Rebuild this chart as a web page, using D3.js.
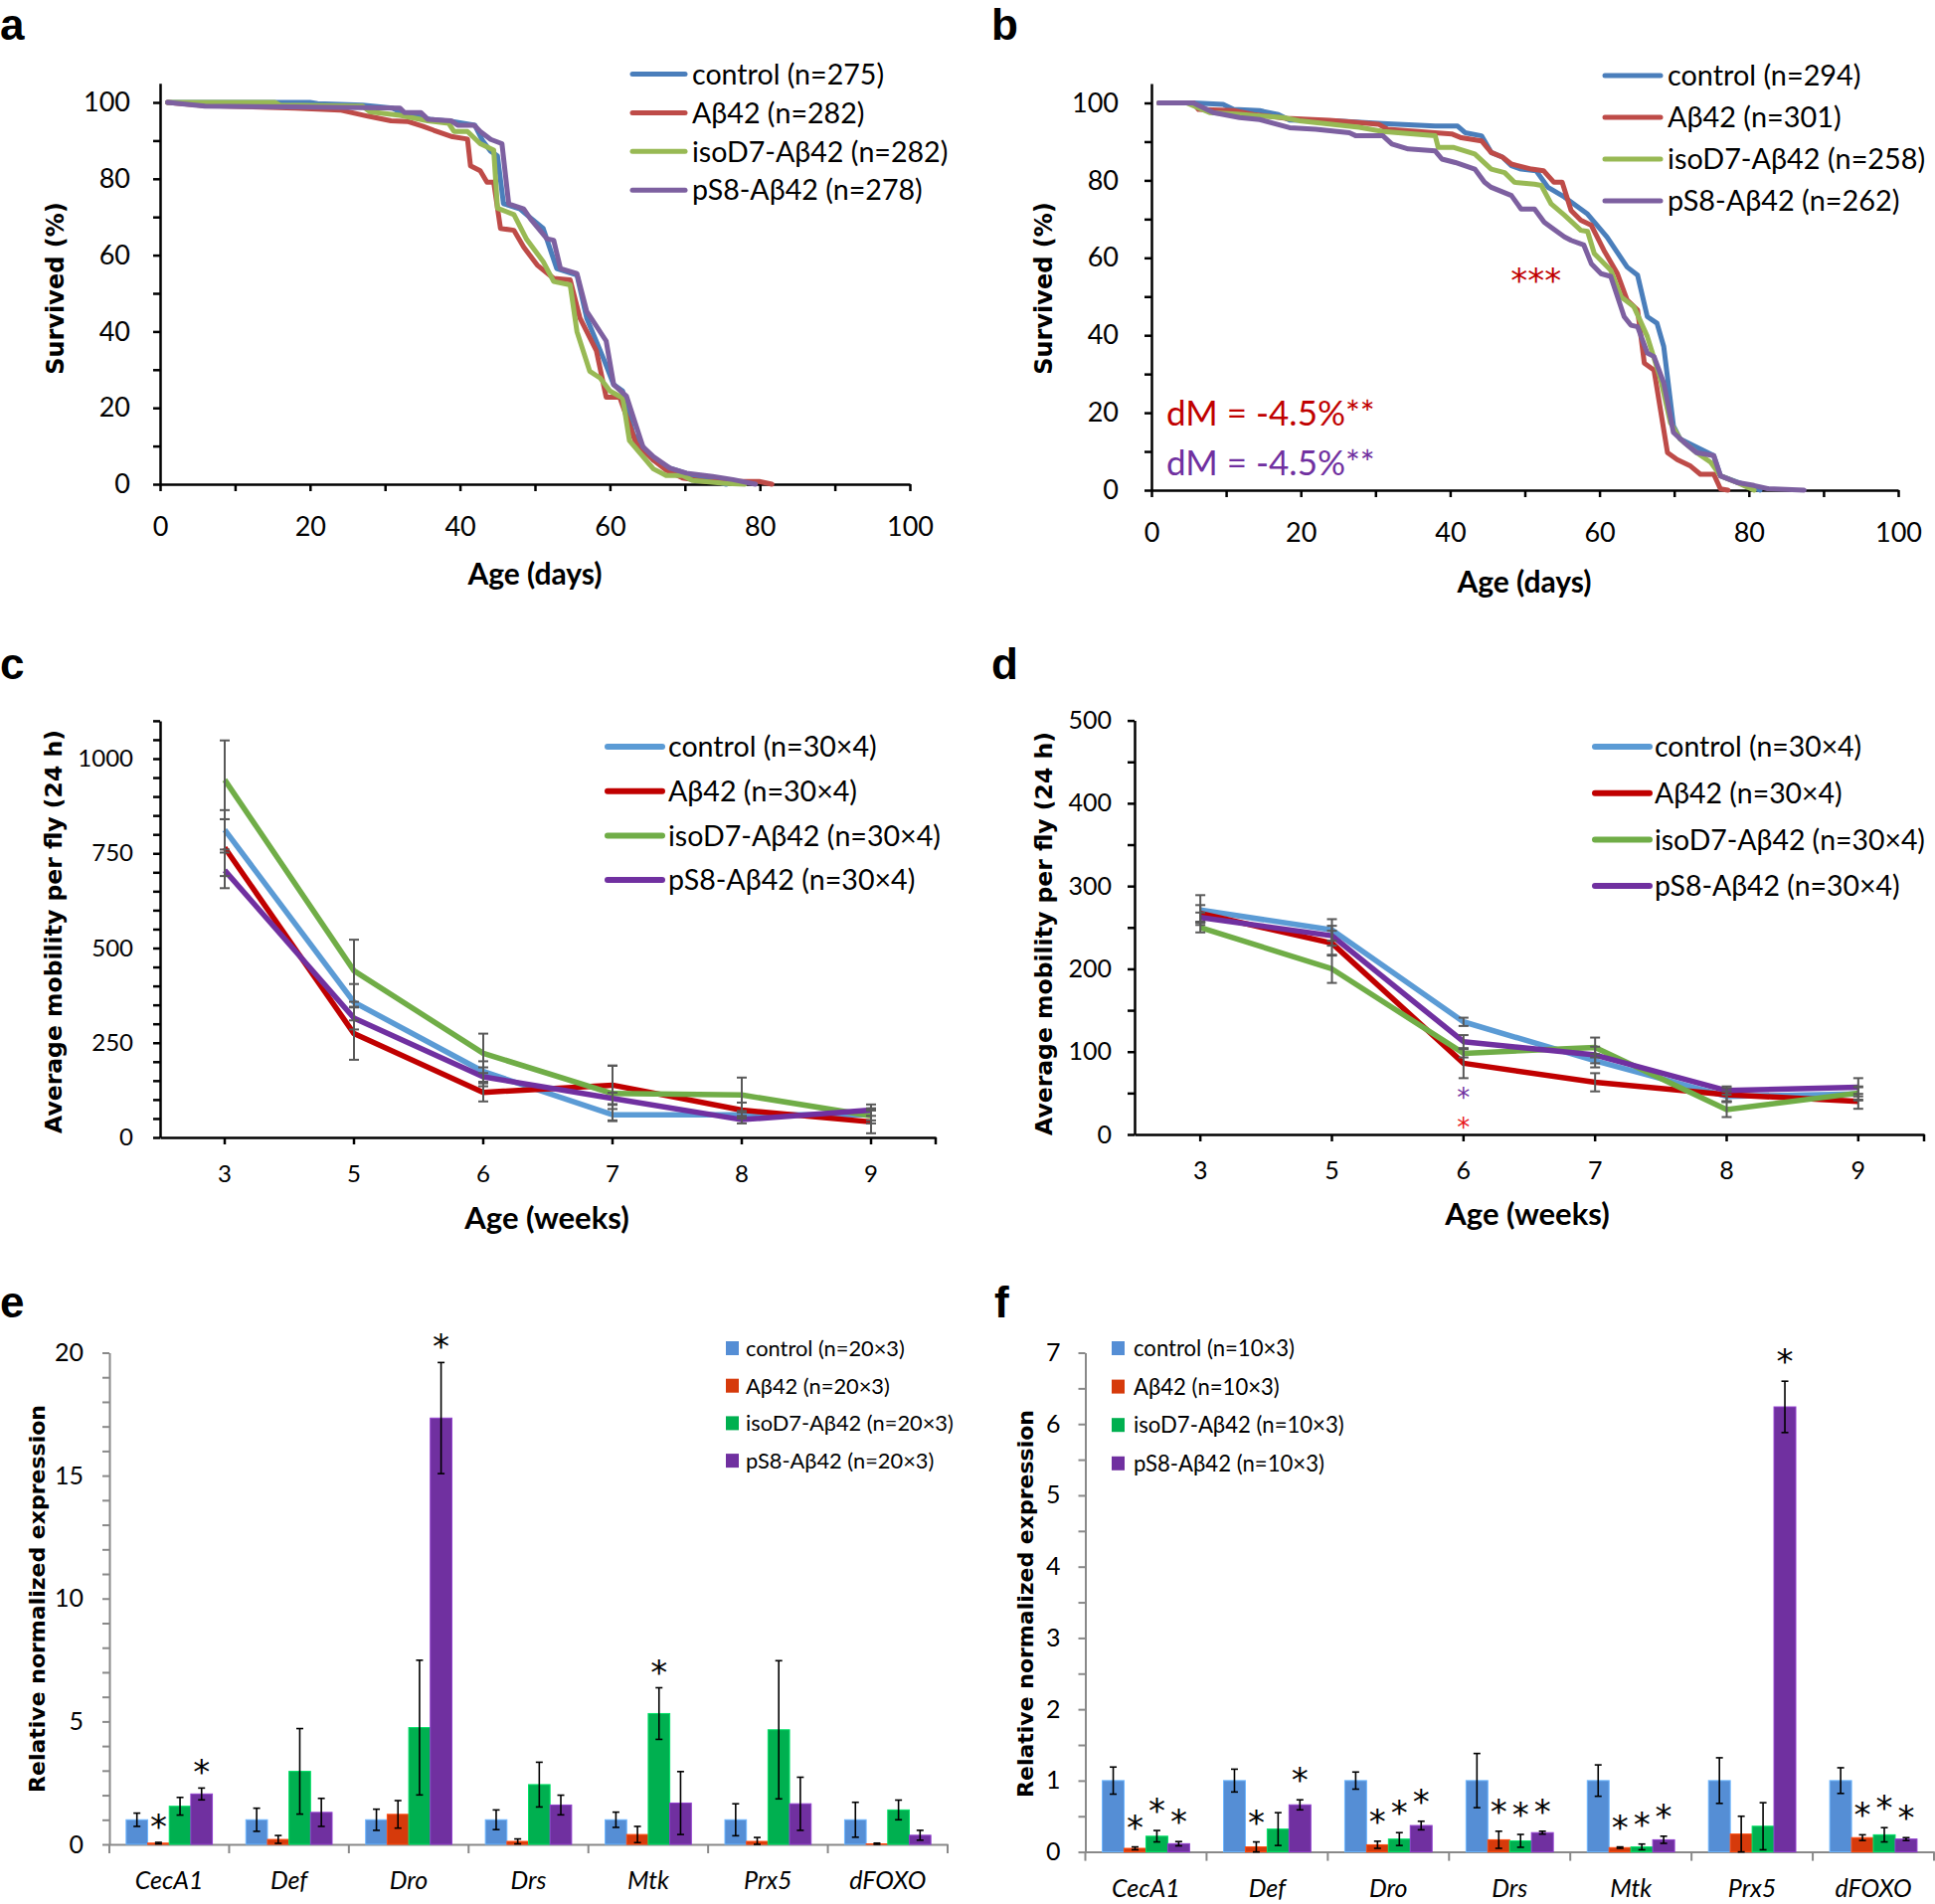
<!DOCTYPE html>
<html><head><meta charset="utf-8">
<script src="https://cdn.jsdelivr.net/npm/d3@7"></script>
<style>body{margin:0;background:#fff}svg{display:block}</style>
</head><body>
<svg id="fig" width="1946" height="1915"></svg>
<script>
// ================= DATA =================
// Panel a: survival curves [day, % survived]
const aLabels = ["control (n=275)","Aβ42 (n=282)","isoD7-Aβ42 (n=282)","pS8-Aβ42 (n=278)"];
const aControl = [[1,100],[20,100],[21,99.7],[27,99.3],[31,98.5],[32,97.5],[35,96],[36,95.6],[39,95],[40,94.7],[42,94],[43,90],[44.1,87.2],[45,86],[45.8,73.5],[48,72.1],[49,70.4],[51.1,67],[52.9,56.5],[55.6,54.8],[56.9,43.5],[59.1,33.1],[60.5,26.1],[61.7,24.4],[63.1,13.1],[65.8,6.3],[68,4.2],[71,2.3],[73.7,1.0],[75.5,0]];
const aAb42 = [[1,100],[5.6,99.2],[18,98.5],[24,98],[27.7,96.4],[30.8,95.2],[33,95],[35,93.8],[36.5,92.7],[39,91],[41,90.4],[41.4,83.4],[42.7,82.1],[43.6,79.1],[44.5,79.1],[45.4,67],[47.2,66.5],[48.5,62.1],[50.3,57.4],[52.5,53.9],[54.7,53.5],[56,43.5],[58.2,34.9],[59.5,22.8],[61.3,22.8],[63.5,10.6],[65.8,6.3],[67.5,3.7],[69.7,1.6],[72.8,0.7],[79.9,0.7],[81.6,0]];
const aIsoD7 = [[1,100],[15.3,100],[16,99.3],[27,99],[28,97.5],[32,96.6],[35.7,95.2],[38.5,94.5],[39.2,92.4],[41,92.4],[42.7,89.2],[44.5,87.5],[45,72.3],[47.2,70.6],[48.9,64.1],[51.1,58.3],[52.5,53.1],[54.7,52.2],[55.6,40],[57.3,29.6],[58.7,27.8],[60,24.4],[61.7,22.6],[62.6,11.4],[65.8,4],[67.5,2.3],[69.7,2.3],[71,1],[75.5,0.2],[78,0]];
const aPS8 = [[1,100],[6,99],[18,98.8],[32,98.5],[32.6,97.3],[34.8,97.3],[35.7,95.6],[38.8,95.2],[39.7,94],[41.9,94],[42.7,92.4],[44.1,90.3],[45.6,89.2],[46.5,73.4],[48.5,72.1],[49.4,69.5],[51.6,64.3],[52.5,63.9],[53.4,56.5],[55.6,55.2],[56.9,45.3],[59.5,37.5],[60.5,26.1],[62.2,23.1],[64.4,9.8],[65.8,7.2],[68,4.2],[70.2,2.9],[73.7,2],[76.4,1.2],[79.4,0]];

// Panel b
const bLabels = ["control (n=294)","Aβ42 (n=301)","isoD7-Aβ42 (n=258)","pS8-Aβ42 (n=262)"];
const bControl = [[1,100],[5.6,100],[9.6,99.6],[11,98.3],[14.5,98],[17,97],[18.5,95.6],[25,95.3],[30.9,94.7],[38,94],[41,94],[42,92.3],[44.2,91.5],[45.5,87.2],[47,86],[48.2,83.8],[49.5,82.9],[51.5,82.5],[53.1,78.2],[55.3,75.7],[58.4,71.3],[61,65.4],[63.7,57.6],[65.1,55.5],[66.4,44.8],[67.7,43.1],[68.6,37.1],[69.9,16.6],[70.8,13.2],[72.6,11.5],[75.3,8.9],[76.2,3.7],[79.7,1.2],[81.5,0]];
const bAb42 = [[1,100],[5.6,100],[6.3,98.3],[11,98],[13.7,97],[16,96.5],[18,96],[23.8,95.5],[27.3,95],[30.4,94.5],[31.6,93.2],[40.2,92],[41.5,91],[44.2,90.2],[45.5,87.2],[47,86],[48.2,84.2],[50.9,82.9],[52.5,82.5],[53.9,79.5],[55,79.5],[56.2,72.2],[57.5,69.7],[58.9,68.4],[60.6,61.9],[62.4,55.9],[63.7,49.1],[65.1,46.5],[66,32.8],[67.3,31],[69.1,9.7],[70.4,7.9],[72.2,6.2],[73.5,4.1],[75.3,4.1],[76.2,0.3],[77.2,0]];
const bIsoD7 = [[1,100],[4.7,100],[7.8,97.5],[11.4,97.1],[17.6,96.2],[19.8,95.4],[27.8,93.7],[31,92.6],[38,91.5],[38.4,88.5],[40.5,88.5],[43.3,86.8],[45.5,82.9],[47.3,82],[48.6,79.5],[51.3,79],[52.2,78.7],[53.5,74],[55.3,71],[57.5,67.1],[58.4,66.8],[59.3,61.1],[61.5,56.8],[62.9,49.9],[64.6,47.4],[66.4,39.7],[68.2,28.5],[69.5,17.4],[70.8,13.2],[73,9.7],[74.9,7.2],[76.2,3.7],[78.4,2],[80.7,0]];
const bPS8 = [[1,100],[5.6,100],[8.3,97.5],[11.8,96.2],[14.5,95.7],[18.5,93.6],[22,93.2],[26.5,92.3],[27.4,91.5],[31,91.5],[32.2,89.4],[34.4,88.1],[38,87.6],[38.9,85.5],[40.7,84.6],[43.3,82.9],[44.6,79.5],[45.5,78.2],[48.2,76.1],[49.5,72.6],[51.3,72.6],[52.6,69.2],[53.5,67.9],[55.3,65.4],[56.2,64.5],[57.9,63.3],[58.9,58.5],[60.2,55.9],[61.5,55.2],[63.3,44.8],[64.2,42.6],[65.1,42.2],[66.4,35.4],[67.3,34.5],[68.6,27.7],[69.9,14.9],[71.3,12.4],[73,9.7],[75.3,8.9],[76.2,3.7],[78.4,2],[80.7,1.2],[82.5,0.4],[87.4,0]];
const bAnnotations = ["dM = -4.5%**","dM = -4.5%**"];
const bAnnotDay = [2, 2];
const bAnnotPct = [19.8, 7.2];
const bStarText = "***";
const bStarPos = [51.5, 56];

// Panels c, d: mobility
const weeks = ["3","5","6","7","8","9"];
const mobLabels = ["control (n=30×4)","Aβ42 (n=30×4)","isoD7-Aβ42 (n=30×4)","pS8-Aβ42 (n=30×4)"];
const cControl = [812,357,174,60,60,60];   const cControlErr = [52,48,27,15,10,15];
const cAb42    = [765,274,119,138,72,41];  const cAb42Err    = [75,69,24,52,20,30];
const cIsoD7   = [944,440,222,116,112,57]; const cIsoD7Err   = [104,82,52,73,46,20];
const cPS8     = [705,315,160,103,47,72];  const cPS8Err     = [47,30,25,15,10,15];
const dControl = [271,247,136,89,46,49];   const dControlErr = [18,13,5,8,6,8];
const dAb42    = [267,231,86,63,48,40];    const dAb42Err    = [10,15,18,11,8,9];
const dIsoD7   = [250,200,98,105,30,50];   const dIsoD7Err   = [6,17,5,12,9,8];
const dPS8     = [262,240,112,96,53,57];   const dPS8Err     = [6,12,8,10,5,11];
const dStarWeek = "6";
const dStarValue = [52, 16];   // purple, red

// Panels e, f: expression
const genes = ["CecA1","Def","Dro","Drs","Mtk","Prx5","dFOXO"];
const eLabels = ["control (n=20×3)","Aβ42 (n=20×3)","isoD7-Aβ42 (n=20×3)","pS8-Aβ42 (n=20×3)"];
const eControl = [1,1,1,1,1,1,1];            const eControlErr = [0.27,0.47,0.43,0.4,0.31,0.65,0.71];
const eAb42    = [0.05,0.2,1.22,0.12,0.4,0.12,0.02]; const eAb42Err = [0.03,0.16,0.56,0.1,0.33,0.16,0.03];
const eIsoD7   = [1.55,2.97,4.75,2.43,5.32,4.66,1.4]; const eIsoD7Err = [0.36,1.74,2.74,0.91,1.05,2.81,0.4];
const ePS8     = [2.05,1.3,17.34,1.6,1.68,1.65,0.37]; const ePS8Err = [0.24,0.57,2.26,0.4,1.28,1.08,0.2];
const eSigControl = [0,0,0,0,0,0,0];
const eSigAb42    = [1,0,0,0,0,0,0];
const eSigIsoD7   = [0,0,0,0,1,0,0];
const eSigPS8     = [1,0,1,0,0,0,0];
const fLabels = ["control (n=10×3)","Aβ42 (n=10×3)","isoD7-Aβ42 (n=10×3)","pS8-Aβ42 (n=10×3)"];
const fControl = [1,1,1,1,1,1,1];            const fControlErr = [0.19,0.16,0.12,0.38,0.22,0.32,0.18];
const fAb42    = [0.05,0.07,0.1,0.17,0.06,0.25,0.2]; const fAb42Err = [0.02,0.07,0.05,0.12,0.01,0.25,0.04];
const fIsoD7   = [0.22,0.32,0.18,0.155,0.07,0.36,0.24]; const fIsoD7Err = [0.08,0.23,0.09,0.09,0.04,0.33,0.1];
const fPS8     = [0.115,0.66,0.37,0.27,0.17,6.24,0.18]; const fPS8Err = [0.03,0.07,0.06,0.02,0.05,0.36,0.02];
const fSigControl = [0,0,0,0,0,0,0];
const fSigAb42    = [1,1,1,1,1,0,1];
const fSigIsoD7   = [1,0,1,1,1,0,1];
const fSigPS8     = [1,1,1,1,1,1,1];

// ================= STYLE =================
const LATO = "Lato, 'Open Sans', 'DejaVu Sans', sans-serif";
const VERD = "'DejaVu Sans', Verdana, sans-serif";
const survColors = ["#4A7EBB","#BE4B48","#98B954","#7D60A0"];
const mobColors  = ["#5B9BD5","#C00000","#70AD47","#7030A0"];
const barColors  = ["#558ED5","#D63A0B","#00B050","#7030A0"];

const svg = d3.select("#fig");

function panelLabel(t, x, y) {
  svg.append("text").attr("x", x).attr("y", y)
    .attr("font-family", "'Liberation Sans', Arial, sans-serif")
    .attr("font-weight", "bold").attr("font-size", 44).text(t);
}
function styleAxis(a, col, w, fs, italic) {
  a.select(".domain").attr("stroke", col).attr("stroke-width", w);
  a.selectAll(".tick line").attr("stroke", col).attr("stroke-width", w);
  a.selectAll("text").attr("font-family", LATO).attr("font-size", fs).attr("fill", "#000")
    .attr("font-style", italic ? "italic" : "normal");
}
function yTitle(t, cx, cy, fs) {
  svg.append("text").attr("transform", `translate(${cx},${cy}) rotate(-90)`)
    .attr("text-anchor", "middle").attr("dy", "0.35em")
    .attr("font-family", VERD).attr("font-weight", "bold").attr("font-size", fs).text(t);
}
function xTitle(t, cx, cy, fs) {
  svg.append("text").attr("x", cx).attr("y", cy).attr("text-anchor", "middle").attr("dy", "0.36em")
    .attr("font-family", LATO).attr("font-weight", "bold").attr("font-size", fs).text(t);
}
function lineLegend(labels, colors, x0, x1, tx, y0, step, fs, lw) {
  const g = svg.append("g");
  labels.forEach((l, i) => {
    const y = y0 + i * step;
    g.append("line").attr("x1", x0).attr("x2", x1).attr("y1", y).attr("y2", y)
      .attr("stroke", colors[i]).attr("stroke-width", lw).attr("stroke-linecap", "round");
    g.append("text").attr("x", tx).attr("y", y).attr("dy", "0.36em")
      .attr("font-family", LATO).attr("font-size", fs).text(l);
  });
}
function boxLegend(labels, colors, sx, tx, y0, step, fs) {
  const g = svg.append("g");
  labels.forEach((l, i) => {
    const y = y0 + i * step;
    g.append("rect").attr("x", sx).attr("y", y - 7).attr("width", 13).attr("height", 14).attr("fill", colors[i]);
    g.append("text").attr("x", tx).attr("y", y).attr("dy", "0.36em")
      .attr("font-family", LATO).attr("font-size", fs).text(l);
  });
}

// ================= SURVIVAL PANELS =================
function survivalPanel(series, labels, o) {
  const x = d3.scaleLinear().domain([0, 100]).range(o.xr);
  const y = d3.scaleLinear().domain([0, 105]).range(o.yr);
  const g = svg.append("g");
  const ay = g.append("g").attr("transform", `translate(${o.xr[0]},0)`)
    .call(d3.axisLeft(y).tickValues(d3.range(0, 101, 10)).tickSize(7).tickSizeOuter(0).tickPadding(o.ypad)
      .tickFormat(d => d % 20 === 0 ? d : ""));
  styleAxis(ay, "#000", 2.5, 27);
  const ax = g.append("g").attr("transform", `translate(0,${y(0)})`)
    .call(d3.axisBottom(x).tickValues(d3.range(0, 101, 10)).tickSize(7).tickSizeOuter(0).tickPadding(26)
      .tickFormat(d => d % 20 === 0 ? d : ""));
  styleAxis(ax, "#000", 2.5, 27);
  const line = d3.line().x(d => x(d[0])).y(d => y(d[1]));
  series.forEach((s, i) => {
    g.append("path").attr("d", line(s)).attr("fill", "none").attr("stroke", survColors[i])
      .attr("stroke-width", 5).attr("stroke-linejoin", "round").attr("stroke-linecap", "round");
  });
  lineLegend(labels, survColors, o.lx[0], o.lx[1], o.lx[2], o.ly[0], o.ly[1], o.lfs, 5);
  return {x, y};
}
panelLabel("a", 0, 40);
survivalPanel([aControl, aAb42, aIsoD7, aPS8], aLabels,
  {xr: [161, 915], yr: [487, 487 - 105 * 3.84], ypad: 23, lx: [636, 689, 696], ly: [74.5, 38.9], lfs: 28.6});
yTitle("Survived (%)", 56, 290, 24);
xTitle("Age (days)", 538, 577, 30);

panelLabel("b", 997, 40);
const sb = survivalPanel([bControl, bAb42, bIsoD7, bPS8], bLabels,
  {xr: [1158, 1909], yr: [493, 493 - 105 * 3.895], ypad: 26, lx: [1614, 1670, 1677], ly: [76, 42], lfs: 28.8});
yTitle("Survived (%)", 1050, 290, 24);
xTitle("Age (days)", 1533, 585, 30);
const annotColors = ["#C00000", "#7030A0"];
bAnnotations.forEach((t, i) => {
  svg.append("text").attr("x", sb.x(bAnnotDay[i])).attr("y", sb.y(bAnnotPct[i])).attr("dy", "0.36em")
    .attr("font-family", LATO).attr("font-size", 35).attr("fill", annotColors[i]).text(t);
});
svg.append("text").attr("x", sb.x(bStarPos[0])).attr("y", sb.y(bStarPos[1]) + 19).attr("text-anchor", "middle")
  .attr("font-family", VERD).attr("font-size", 34).attr("fill", "#C00000").text(bStarText);

// ================= MOBILITY PANELS =================
function mobilityPanel(series, errs, o) {
  const x = d3.scaleBand().domain(weeks).range(o.xr).padding(0);
  const cx = w => x(w) + x.bandwidth() / 2;
  const y = d3.scaleLinear().domain([0, o.ymax]).range(o.yr);
  const g = svg.append("g");
  const ay = g.append("g").attr("transform", `translate(${o.xr[0]},0)`)
    .call(d3.axisLeft(y).tickValues(d3.range(0, o.ymax + 1, 50)).tickSize(7).tickSizeOuter(0).tickPadding(o.ypad)
      .tickFormat(d => d % o.major === 0 && d <= o.labelMax ? d : ""));
  styleAxis(ay, "#000", 2.5, o.yfs);
  const ax = g.append("g").attr("transform", `translate(0,${y(0)})`)
    .call(d3.axisBottom(x).tickSize(7).tickSizeOuter(0).tickPadding(o.xpad));
  styleAxis(ax, "#000", 2.5, o.yfs);
  ax.append("line").attr("x1", o.xr[1]).attr("x2", o.xr[1]).attr("y1", 0).attr("y2", 7)
    .attr("stroke", "#000").attr("stroke-width", 2.5);
  const line = d3.line().x((d, i) => cx(weeks[i])).y(d => y(d));
  series.forEach((s, i) => {
    g.append("path").attr("d", line(s)).attr("fill", "none").attr("stroke", mobColors[i])
      .attr("stroke-width", 5.5).attr("stroke-linejoin", "round");
  });
  const eg = g.append("g").attr("stroke", "#595959").attr("stroke-width", 2);
  series.forEach((s, i) => {
    s.forEach((v, j) => {
      const xx = cx(weeks[j]), e = errs[i][j];
      eg.append("line").attr("x1", xx).attr("x2", xx).attr("y1", y(v - e)).attr("y2", y(v + e));
      [v - e, v + e].forEach(t => eg.append("line").attr("x1", xx - 5).attr("x2", xx + 5).attr("y1", y(t)).attr("y2", y(t)));
    });
  });
  lineLegend(mobLabels, mobColors, o.lx[0], o.lx[1], o.lx[2], o.ly[0], o.ly[1], o.lfs, 6);
  return {x, cx, y};
}
panelLabel("c", 0, 683);
mobilityPanel([cControl, cAb42, cIsoD7, cPS8], [cControlErr, cAb42Err, cIsoD7Err, cPS8Err],
  {xr: [161, 941], yr: [1144, 1144 - 1100 * 0.381], ymax: 1100, major: 250, labelMax: 1000, ypad: 20, yfs: 24, xpad: 21,
   lx: [611, 666, 672], ly: [751, 44.7], lfs: 28.6});
yTitle("Average mobility per fly (24 h)", 54, 937, 23.5);
xTitle("Age (weeks)", 550, 1225, 31);

panelLabel("d", 997, 683);
const md = mobilityPanel([dControl, dAb42, dIsoD7, dPS8], [dControlErr, dAb42Err, dIsoD7Err, dPS8Err],
  {xr: [1141, 1935], yr: [1141, 724.6], ymax: 500, major: 100, labelMax: 500, ypad: 16, yfs: 25, xpad: 20,
   lx: [1604, 1659, 1664], ly: [751, 46.7], lfs: 28.4});
yTitle("Average mobility per fly (24 h)", 1050, 939, 23.5);
xTitle("Age (weeks)", 1536, 1221, 31);
const dStarColors = ["#7030A0", "#E8161B"];
dStarValue.forEach((v, i) => {
  svg.append("text").attr("x", md.cx(dStarWeek)).attr("y", md.y(v) + 15).attr("text-anchor", "middle")
    .attr("font-family", VERD).attr("font-size", 26).attr("fill", dStarColors[i]).text("*");
});

// ================= EXPRESSION PANELS =================
function barPanel(vals, errs, sigs, labels, o) {
  const x0 = d3.scaleBand().domain(genes).range(o.xr).padding(0);
  const bw = x0.bandwidth();
  const x1 = d3.scaleBand().domain(d3.range(4)).range([bw * 0.14, bw * 0.86]).padding(0);
  const y = d3.scaleLinear().domain([0, o.ymax]).range(o.yr);
  const g = svg.append("g");
  const ticks = d3.range(0, o.ymax + 1e-9, o.minor).map(d => +d.toFixed(2));
  const ay = g.append("g").attr("transform", `translate(${o.xr[0]},0)`)
    .call(d3.axisLeft(y).tickValues(ticks).tickSize(7).tickSizeOuter(0).tickPadding(o.ypad)
      .tickFormat(d => Math.abs(d / o.major - Math.round(d / o.major)) < 1e-6 ? d : ""));
  styleAxis(ay, "#898989", 2, 25);
  const ax = g.append("g").attr("transform", `translate(0,${y(0)})`)
    .call(d3.axisBottom(x0).tickSize(0).tickSizeOuter(0).tickPadding(o.xpad));
  styleAxis(ax, "#898989", 2, 25, true);
  d3.range(genes.length + 1).forEach(i => {
    const xx = o.xr[0] + i * bw;
    ax.append("line").attr("x1", xx).attr("x2", xx).attr("y1", 0).attr("y2", 9)
      .attr("stroke", "#898989").attr("stroke-width", 2);
  });
  vals.forEach((s, i) => {
    s.forEach((v, j) => {
      const bx = x0(genes[j]) + x1(i);
      g.append("rect").attr("x", bx).attr("y", y(v)).attr("width", x1.bandwidth()).attr("height", y(0) - y(v))
        .attr("fill", barColors[i]).attr("stroke", d3.color(barColors[i]).brighter(0.7)).attr("stroke-width", 1);
    });
  });
  const eg = g.append("g").attr("stroke", "#000").attr("stroke-width", 1.6);
  vals.forEach((s, i) => {
    s.forEach((v, j) => {
      const xx = x0(genes[j]) + x1(i) + x1.bandwidth() / 2, e = errs[i][j];
      const lo = Math.max(0, v - e), hi = v + e;
      eg.append("line").attr("x1", xx).attr("x2", xx).attr("y1", y(lo)).attr("y2", y(hi));
      [lo, hi].forEach(t => eg.append("line").attr("x1", xx - 3.5).attr("x2", xx + 3.5).attr("y1", y(t)).attr("y2", y(t)));
      if (sigs[i][j]) {
        svg.append("text").attr("x", xx).attr("y", y(hi) - o.starOff).attr("text-anchor", "middle")
          .attr("font-family", VERD).attr("font-size", 34).attr("fill", "#000").text("*");
      }
    });
  });
  boxLegend(labels, barColors, o.lg[0], o.lg[1], o.lg[2], o.lg[3], o.lfs);
}
panelLabel("e", 0, 1325);
barPanel([eControl, eAb42, eIsoD7, ePS8], [eControlErr, eAb42Err, eIsoD7Err, ePS8Err],
  [eSigControl, eSigAb42, eSigIsoD7, eSigPS8], eLabels,
  {xr: [110, 953], yr: [1855, 1360.5], ymax: 20, minor: 1, major: 5, ypad: 19, xpad: 27, starOff: 4,
   lg: [730, 750, 1356, 37.7], lfs: 21.8});
yTitle("Relative normalized expression", 37, 1608, 22);

panelLabel("f", 1000, 1325);
barPanel([fControl, fAb42, fIsoD7, fPS8], [fControlErr, fAb42Err, fIsoD7Err, fPS8Err],
  [fSigControl, fSigAb42, fSigIsoD7, fSigPS8], fLabels,
  {xr: [1091.5, 1945], yr: [1862.6, 1360.5], ymax: 7, minor: 0.5, major: 1, ypad: 18, xpad: 28, starOff: 8,
   lg: [1118, 1140, 1356, 38.6], lfs: 22.1});
yTitle("Relative normalized expression", 1031, 1613, 22);
</script>
</body></html>
